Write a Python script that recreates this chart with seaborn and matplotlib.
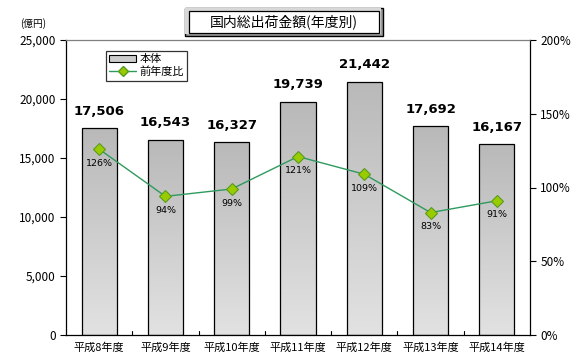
import numpy as np
import pandas as pd
import matplotlib
matplotlib.use("Agg")
import matplotlib.pyplot as plt
import seaborn as sns
from matplotlib.patches import Rectangle, Patch
from matplotlib.lines import Line2D
from matplotlib.ticker import FuncFormatter, FixedLocator
from matplotlib.colors import LinearSegmentedColormap

categories = ["平成8年度", "平成9年度", "平成10年度", "平成11年度", "平成12年度", "平成13年度", "平成14年度"]
amounts = [17506, 16543, 16327, 19739, 21442, 17692, 16167]
ratios = [1.26, 0.94, 0.99, 1.21, 1.09, 0.83, 0.91]
ratio_labels = ["126%", "94%", "99%", "121%", "109%", "83%", "91%"]
left_ticks = [0, 5000, 10000, 15000, 20000, 25000]
right_ticks = [0, 0.5, 1.0, 1.5, 2.0]

sns.set_theme(style="white")
plt.rcParams["font.family"] = ["Noto Sans CJK JP", "DejaVu Sans"]
plt.rcParams["text.color"] = "black"
plt.rcParams["xtick.color"] = "black"
plt.rcParams["ytick.color"] = "black"
plt.rcParams["axes.labelcolor"] = "black"

W, H = 582, 363
fig = plt.figure(figsize=(W / 100, H / 100), dpi=100)
L, R, T, B = 66, 530, 40, 335
ax = fig.add_axes([L / W, 1 - B / H, (R - L) / W, (B - T) / H])

df = pd.DataFrame({"cat": categories, "amount": amounts})
sns.barplot(data=df, x="cat", y="amount", ax=ax, color="#cccccc",
            edgecolor="black", linewidth=0.9, width=0.53, saturation=1)

# gradient fill on bars
grad = np.linspace(0, 1, 256).reshape(-1, 1)
cmap = LinearSegmentedColormap.from_list("g", ["#e2e2e2", "#b9b9b9"])
for p in ax.patches:
    x0, y0 = p.get_x(), p.get_y()
    w, h = p.get_width(), p.get_height()
    im = ax.imshow(grad, cmap=cmap, aspect="auto", origin="lower",
                   extent=[x0, x0 + w, y0, y0 + h], zorder=p.get_zorder() - 0.1)
    im.set_clip_path(p)
    p.set_facecolor("none")
ax.set_xlim(-0.5, len(categories) - 0.5)
ax.set_ylim(0, 25000)

for i, v in enumerate(amounts):
    ax.text(i, v + 900, f"{v:,}", ha="center", va="bottom", fontsize=9.5,
            fontweight="bold", family="DejaVu Sans", color="black")

ax.set_xlabel("")
ax.set_ylabel("")
ax.yaxis.set_major_locator(FixedLocator(left_ticks))
ax.yaxis.set_major_formatter(FuncFormatter(lambda v, p: f"{int(v):,}"))
ax.set_xticks(range(len(categories)))
ax.set_xticklabels(categories, fontsize=8)
ax.tick_params(axis="x", length=0, pad=5)
ax.tick_params(axis="y", labelsize=8.5, length=4, direction="out", width=0.8, color="black", left=True)
for x in np.arange(0.5, len(categories) - 0.5, 1):
    ax.plot([x, x], [0, 300], color="black", lw=0.8, zorder=5, clip_on=False)
for s in ["left", "bottom", "right"]:
    ax.spines[s].set_color("black")
    ax.spines[s].set_linewidth(0.9)
ax.spines["top"].set_color("#808080")
ax.spines["top"].set_linewidth(0.9)

ax2 = ax.twinx()
sns.lineplot(x=list(range(len(categories))), y=ratios, ax=ax2, color="#2e9a5e",
             lw=1.0, marker="D", markersize=6.5, markerfacecolor="#99cc00",
             markeredgecolor="#5a9a20", markeredgewidth=0.8)
ax2.set_ylim(0, 2.0)
ax2.yaxis.set_major_locator(FixedLocator(right_ticks))
ax2.yaxis.set_major_formatter(FuncFormatter(lambda v, p: f"{int(round(v * 100))}%"))
ax2.tick_params(axis="y", labelsize=8.5, length=4, direction="out", width=0.8, color="black", right=True)
ax2.grid(False)
for s in ax2.spines.values():
    s.set_visible(False)
for i, (r, lab) in enumerate(zip(ratios, ratio_labels)):
    ax2.text(i, r - 0.065, lab, ha="center", va="top", fontsize=6.8,
             family="DejaVu Sans", color="black")

# legend
handles = [Patch(facecolor="#cccccc", edgecolor="black", linewidth=0.8, label="本体"),
           Line2D([0], [0], color="#2e9a5e", lw=1.0, marker="D", markersize=5.5,
                  markerfacecolor="#99cc00", markeredgecolor="#5a9a20", label="前年度比")]
leg = ax.legend(handles=handles, loc="upper left",
                bbox_to_anchor=((106 - L) / (R - L), 1 - (51 - T) / (B - T)),
                fontsize=8, frameon=True, fancybox=False, borderpad=0.3,
                labelspacing=0.2, handlelength=2.4, handletextpad=0.3, borderaxespad=0)
leg.get_frame().set_edgecolor("black")
leg.get_frame().set_linewidth(0.9)
leg.set_zorder(20)

# title box
def fr(x0, y0, x1, y1):
    return (x0 / W, 1 - y1 / H), (x1 - x0) / W, (y1 - y0) / H
xy, w, h = fr(185, 8, 383, 36)
fig.patches.append(Rectangle(xy, w, h, transform=fig.transFigure, fc="#9a9a9a", ec="black", lw=1.0))
xy, w, h = fr(185, 8, 381, 34)
fig.patches.append(Rectangle(xy, w, h, transform=fig.transFigure, fc="#d8d8d8", ec="none", lw=0))
xy, w, h = fr(189, 11, 379, 33)
fig.patches.append(Rectangle(xy, w, h, transform=fig.transFigure, fc="white", ec="black", lw=0.9))
fig.text(283.5 / W, 1 - 21.5 / H, "国内総出荷金額(年度別)", ha="center", va="center", fontsize=10)

fig.text(33 / W, 1 - 24 / H, "(億円)", ha="center", va="center", fontsize=7)

fig.savefig("out.png", dpi=100)
